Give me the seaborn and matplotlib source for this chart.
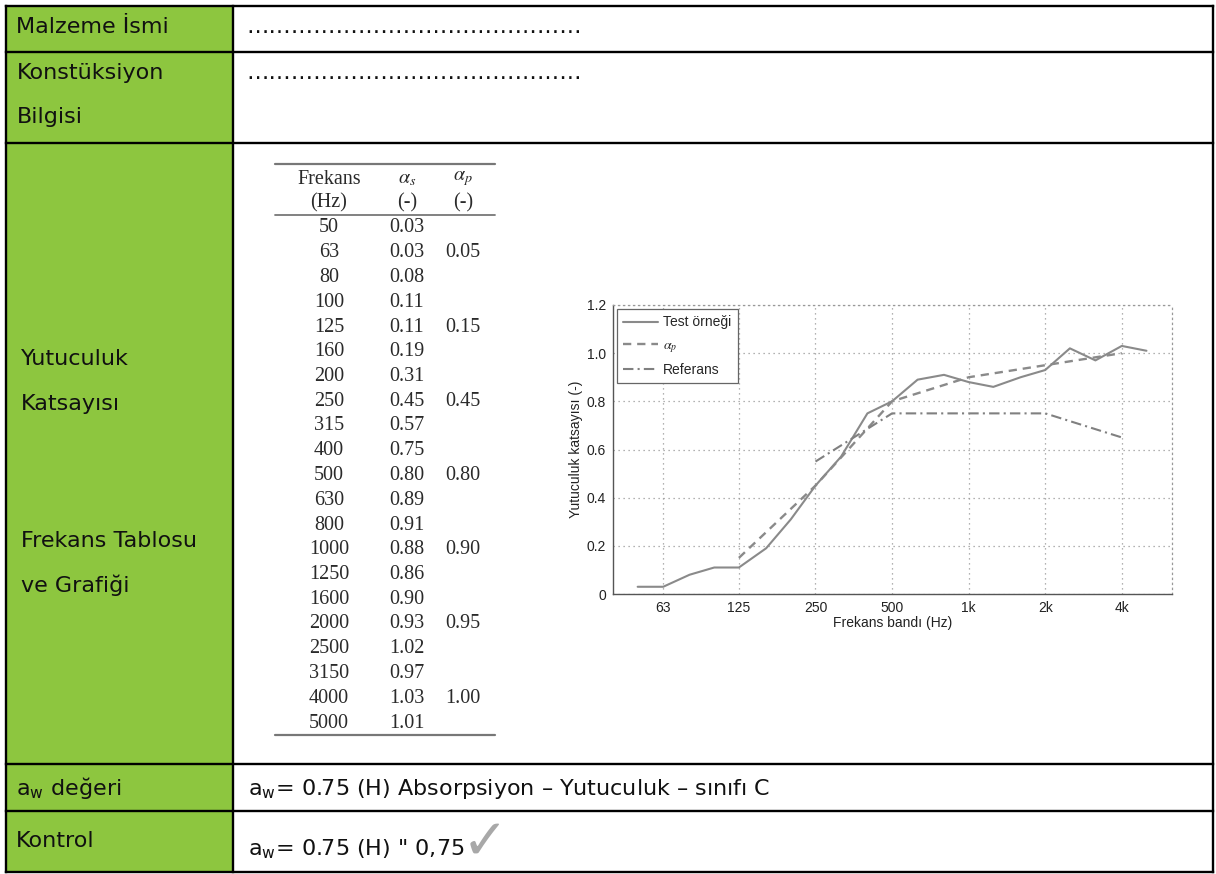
import numpy as np
import pandas as pd
import matplotlib
matplotlib.use("Agg")
import matplotlib.pyplot as plt
import seaborn as sns

# ---------------- data ----------------
freq_hz = [50, 63, 80, 100, 125, 160, 200, 250, 315, 400, 500, 630, 800,
           1000, 1250, 1600, 2000, 2500, 3150, 4000, 5000]
alpha_s = [0.03, 0.03, 0.08, 0.11, 0.11, 0.19, 0.31, 0.45, 0.57, 0.75, 0.80,
           0.89, 0.91, 0.88, 0.86, 0.90, 0.93, 1.02, 0.97, 1.03, 1.01]
alpha_p_freq = [63, 125, 250, 500, 1000, 2000, 4000]
alpha_p = [0.05, 0.15, 0.45, 0.80, 0.90, 0.95, 1.00]
plot_p_freq = [125, 250, 500, 1000, 2000, 4000]
plot_p = [0.15, 0.45, 0.80, 0.90, 0.95, 1.00]
ref_freq = [250, 500, 1000, 2000, 4000]
ref_vals = [0.55, 0.75, 0.75, 0.75, 0.65]
x_ticks = [63, 125, 250, 500, 1000, 2000, 4000]
x_tick_labels = ["63", "125", "250", "500", "1k", "2k", "4k"]
y_ticks = [0, 0.2, 0.4, 0.6, 0.8, 1.0, 1.2]
y_tick_labels = ["0", "0.2", "0.4", "0.6", "0.8", "1.0", "1.2"]

big_row_lines = ["Yutuculuk", "Katsayısı", "", "", "Frekans Tablosu", "ve Grafiği"]

sns.set_theme(style="white")
plt.rcParams["mathtext.fontset"] = "stix"
DOC_FONT = ["DejaVu Sans"]
SERIF = ["Liberation Serif", "DejaVu Serif"]
CHART_FONT = ["Liberation Sans Narrow", "Liberation Sans", "DejaVu Sans"]

W, H = 1216, 874
fig = plt.figure(figsize=(W / 100, H / 100), dpi=100)
fig.patch.set_facecolor("white")

bg = fig.add_axes([0, 0, 1, 1])
bg.set_xlim(0, W)
bg.set_ylim(H, 0)
bg.axis("off")

GREEN = "#8dc63f"
L, R, T, B = 6, 1213, 6, 872
DIV = 233
rows_y = [T, 52, 143, 764, 811, B]

bg.add_patch(plt.Rectangle((L, T), DIV - L, B - T, facecolor=GREEN, edgecolor="none"))
lw = 1.7
for y in rows_y:
    bg.plot([L, R], [y, y], color="black", lw=lw, solid_capstyle="projecting")
for x in [L, DIV, R]:
    bg.plot([x, x], [T, B], color="black", lw=lw, solid_capstyle="projecting")

fs = 16
txt = dict(fontsize=fs, family=DOC_FONT, color="#111", va="baseline", ha="left")
bg.text(16, 33, "Malzeme İsmi", **txt)
bg.text(17, 79, "Konstüksiyon", **txt)
bg.text(17, 123, "Bilgisi", **txt)
base = 365
for i, line in enumerate(big_row_lines):
    if line:
        bg.text(21, base + i * 45.5, line, **txt)
dots = "\u2026" * 15
bg.text(246, 33, dots, fontsize=fs, family=DOC_FONT, color="#111", va="baseline")
bg.text(246, 79, dots, fontsize=fs, family=DOC_FONT, color="#111", va="baseline")

bg.text(16, 795, "a$_\\mathregular{w}$ değeri", **txt)
bg.text(16, 847, "Kontrol", **txt)
bg.text(248, 795, "a$_\\mathregular{w}$= 0.75 (H) Absorpsiyon – Yutuculuk – sınıfı C", **txt)
kt = bg.text(248, 855, "a$_\\mathregular{w}$= 0.75 (H) \" 0,75", **txt)
fig.canvas.draw()
bb = kt.get_window_extent(renderer=fig.canvas.get_renderer())
x_end = bb.x1
bg.text(x_end - 3, 859, "\u2713", fontsize=40, family=["DejaVu Sans"], color="#a8a8a8",
        va="baseline", ha="left")

# ------------- frequency table -------------
tcol = "#2a2a2a"
tfs = 14.5
cx_f, cx_s, cx_p = 329, 407, 463
bg.plot([275, 495], [164, 164], color="#777", lw=1.6)
bg.plot([275, 495], [215, 215], color="#777", lw=1.3)
bg.plot([275, 495], [735, 735], color="#777", lw=1.6)
hd = dict(fontsize=tfs, family=SERIF, color=tcol, ha="center", va="center")
bg.text(cx_f, 179, "Frekans", **hd)
bg.text(cx_f, 203, "(Hz)", **hd)
bg.text(cx_s, 179, r"$\alpha_s$", **hd)
bg.text(cx_p, 179, r"$\alpha_p$", **hd)
bg.text(cx_s, 203, "(-)", **hd)
bg.text(cx_p, 203, "(-)", **hd)
y0, dy = 228, 24.75
for i, (f, a) in enumerate(zip(freq_hz, alpha_s)):
    yy = y0 + i * dy
    bg.text(cx_f, yy, str(f), **hd)
    bg.text(cx_s, yy, f"{a:.2f}", **hd)
    if f in alpha_p_freq:
        bg.text(cx_p, yy, f"{alpha_p[alpha_p_freq.index(f)]:.2f}", **hd)

# ------------- chart -------------
ax_l, ax_r, ax_t, ax_b = 613, 1172, 305, 594
ax = fig.add_axes([ax_l / W, 1 - ax_b / H, (ax_r - ax_l) / W, (ax_b - ax_t) / H])
ax.set_facecolor("none")
LC = "#8a8a8a"
df_s = pd.DataFrame({"f": freq_hz, "a": alpha_s})
df_p = pd.DataFrame({"f": plot_p_freq, "a": plot_p})
df_r = pd.DataFrame({"f": ref_freq, "a": ref_vals})
sns.lineplot(data=df_s, x="f", y="a", ax=ax, color=LC, lw=1.5, label="Test örneği")
sns.lineplot(data=df_p, x="f", y="a", ax=ax, color=LC, lw=1.7, linestyle=(0, (3.5, 2.5)),
             label=r"$\alpha_p$")
sns.lineplot(data=df_r, x="f", y="a", ax=ax, color="#808080", lw=1.5,
             linestyle=(0, (5, 2, 1, 2)), label="Referans")
ax.set_xscale("log", base=2)
ax.set_xlim(40, 6300)
ax.set_ylim(0, 1.2)
ax.set_xticks(x_ticks)
ax.set_xticklabels(x_tick_labels)
ax.minorticks_off()
ax.set_yticks(y_ticks)
ax.set_yticklabels(y_tick_labels)
ax.grid(True, linestyle=(0, (1, 3)), color="#999", lw=0.9)
for s in ["left", "bottom"]:
    ax.spines[s].set_color("#555")
    ax.spines[s].set_linewidth(1.0)
for s in ["top", "right"]:
    ax.spines[s].set_color("#999")
    ax.spines[s].set_linestyle((0, (1, 3)))
    ax.spines[s].set_linewidth(0.9)
ax.tick_params(axis="both", direction="in", length=3, width=0.8, color="#555",
               labelsize=10, labelcolor="#222", pad=5)
for lab in ax.get_xticklabels() + ax.get_yticklabels():
    lab.set_family(CHART_FONT)
ax.set_xlabel("Frekans bandı (Hz)", fontsize=10, family=CHART_FONT, color="#222", labelpad=1)
ax.set_ylabel("Yutuculuk katsayısı (-)", fontsize=10, family=CHART_FONT, color="#222", labelpad=3)
leg = ax.legend(loc="upper left", frameon=True, fancybox=False, framealpha=1,
                edgecolor="#666", handlelength=2.5, handletextpad=0.35,
                labelspacing=0.6, borderaxespad=0.3, borderpad=0.45,
                prop={"family": CHART_FONT, "size": 10})
leg.get_frame().set_linewidth(0.9)

fig.savefig("out.png", dpi=100, facecolor="white")
